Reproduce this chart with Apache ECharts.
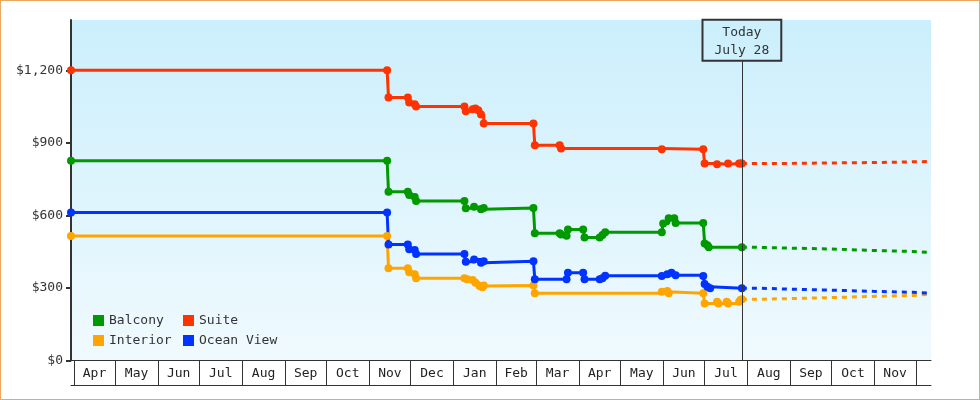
<!DOCTYPE html>
<html><head><meta charset="utf-8">
<script src="https://cdn.jsdelivr.net/npm/echarts@6/dist/echarts.min.js"></script>
<style>
html,body{margin:0;padding:0;background:#fff}
#wrap{position:relative;width:980px;height:400px}
#c{width:980px;height:400px}
#f{position:absolute;left:0;top:0;width:980px;height:400px;box-sizing:border-box;border:1px solid #EBA960;pointer-events:none}
</style>
</head><body>
<div id="wrap"><div id="c"></div><div id="f"></div></div>
<script>
// ---- data ----
const monthLabels = ['Apr','May','Jun','Jul','Aug','Sep','Oct','Nov','Dec','Jan','Feb','Mar','Apr','May','Jun','Jul','Aug','Sep','Oct','Nov'];
const yTicks = [0, 300, 600, 900, 1200];
const axisStart = '2023-03-30';
const axisEnd = '2024-12-12';
const todayDate = '2024-07-28';
const todayLabel = 'Today\nJuly 28';

const balconyDates = ['2023-03-30','2023-11-14','2023-11-15','2023-11-29','2023-11-30','2023-12-04','2023-12-05','2024-01-09','2024-01-10','2024-01-16','2024-01-21','2024-01-23','2024-02-28','2024-02-29','2024-03-18','2024-03-19','2024-03-23','2024-03-24','2024-04-04','2024-04-05','2024-04-16','2024-04-18','2024-04-20','2024-05-31','2024-06-01','2024-06-05','2024-06-09','2024-06-10','2024-06-30','2024-07-01','2024-07-03','2024-07-04','2024-07-28'];
const balconyPrices = [826,826,698,698,684,676,660,660,630,636,625,631,631,526,526,521,516,542,542,509,509,519,530,530,567,588,588,569,569,484,477,468,468];

const interiorDates = ['2023-03-30','2023-11-14','2023-11-15','2023-11-29','2023-11-30','2023-12-04','2023-12-05','2024-01-09','2024-01-11','2024-01-15','2024-01-17','2024-01-20','2024-01-22','2024-01-23','2024-02-28','2024-02-29','2024-05-31','2024-06-04','2024-06-05','2024-06-30','2024-07-01','2024-07-10','2024-07-11','2024-07-17','2024-07-18','2024-07-26','2024-07-27','2024-07-28'];
const interiorPrices = [515,515,381,381,365,357,340,340,336,333,322,308,303,310,310,278,284,287,278,278,236,243,236,243,236,243,250,253];

const oceanDates = ['2023-03-30','2023-11-14','2023-11-15','2023-11-29','2023-11-30','2023-12-04','2023-12-05','2024-01-09','2024-01-10','2024-01-16','2024-01-21','2024-01-23','2024-02-28','2024-02-29','2024-03-23','2024-03-24','2024-04-04','2024-04-05','2024-04-16','2024-04-18','2024-04-20','2024-05-31','2024-06-04','2024-06-07','2024-06-10','2024-06-30','2024-07-01','2024-07-03','2024-07-05','2024-07-28'];
const oceanPrices = [612,612,480,480,460,457,440,440,408,418,404,410,410,336,336,363,363,336,336,340,350,349,357,363,353,349,316,305,299,299];

const suiteDates = ['2023-03-30','2023-11-14','2023-11-15','2023-11-29','2023-11-30','2023-12-04','2023-12-05','2024-01-09','2024-01-10','2024-01-15','2024-01-17','2024-01-19','2024-01-21','2024-01-23','2024-02-28','2024-02-29','2024-03-18','2024-03-19','2024-05-31','2024-06-30','2024-07-01','2024-07-10','2024-07-18','2024-07-26','2024-07-27','2024-07-28'];
const suitePrices = [1200,1200,1088,1088,1067,1060,1050,1050,1031,1039,1042,1035,1017,980,980,890,890,877,874,874,815,812,815,815,815,815];

const forecastDates = ['2024-07-28','2024-08-09','2024-09-07','2024-10-06','2024-10-31','2024-11-29','2024-12-12'];
const balconyForecast = [468,464,460,455,451,447,447];
const interiorForecast = [253,257,261,265,269,274,274];
const oceanForecast = [299,294,290,286,282,278,278];
const suiteForecastDates = ['2024-07-28','2024-08-31','2024-11-07','2024-12-12'];
const suiteForecast = [815,819,823,823];

// ---- build ----
const FONT = '"DejaVu Sans Mono", monospace';
const toTs = s => { const p = s.split('-').map(Number); return Date.UTC(p[0], p[1]-1, p[2]); };
const zip = (ds, vs) => ds.map((d, i) => [toTs(d), vs[i]]);

const monthStarts = [];
for (let i = 0; i <= monthLabels.length; i++) monthStarts.push(Date.UTC(2023, 3 + i, 1));
const labelPos = monthLabels.map((m, i) => (monthStarts[i] + monthStarts[i + 1]) / 2);
const monthFmt = v => {
  let best = -1, bd = Infinity;
  labelPos.forEach((p, i) => { const d = Math.abs(p - v); if (d < bd) { bd = d; best = i; } });
  return bd < 86400000 ? monthLabels[best] : '';
};
const moneyFmt = v => '$' + Number(v).toLocaleString('en-US');

const colors = { Balcony: '#009900', Interior: '#FFA500', 'Ocean View': '#0033FF', Suite: '#FF3300' };

function solid(name, data, extra) {
  return Object.assign({
    name, type: 'line', step: 'end', data,
    symbol: 'circle', symbolSize: 8, showAllSymbol: true,
    lineStyle: { width: 3, color: colors[name] },
    itemStyle: { color: colors[name] },
    emphasis: { disabled: true }, animation: false
  }, extra || {});
}
function forecast(name, data) {
  return {
    name, type: 'line', step: 'end', data,
    symbol: 'none', showSymbol: false,
    lineStyle: { width: 3, color: colors[name], type: [5, 5] },
    itemStyle: { color: colors[name] },
    emphasis: { disabled: true }, animation: false
  };
}

const todayTs = toTs(todayDate);
const legendText = { fontFamily: FONT, fontSize: 13, color: '#333' };

const option = {
  animation: false,
  grid: {
    left: 71, right: 49, top: 20, bottom: 39.5, show: true, borderWidth: 0,
    outerBoundsMode: 'none',
    backgroundColor: new echarts.graphic.LinearGradient(0, 0, 0, 1, [
      { offset: 0, color: '#CBEFFC' }, { offset: 1, color: '#F0FAFE' }
    ])
  },
  legend: [
    { data: ['Balcony', 'Interior'], left: 88, top: 309, orient: 'vertical', icon: 'rect',
      itemWidth: 11, itemHeight: 11, itemGap: 7, textStyle: legendText, selectedMode: false },
    { data: ['Suite', 'Ocean View'], left: 178, top: 309, orient: 'vertical', icon: 'rect',
      itemWidth: 11, itemHeight: 11, itemGap: 7, textStyle: legendText, selectedMode: false }
  ],
  xAxis: [
    { type: 'value', min: toTs(axisStart), max: toTs(axisEnd), position: 'bottom', scale: true,
      axisLine: { show: true, onZero: false, lineStyle: { color: '#333', width: 1 } },
      axisTick: { show: true, length: 25, inside: false, customValues: monthStarts, lineStyle: { color: '#333', width: 1 } },
      axisLabel: { show: true, customValues: labelPos, formatter: monthFmt, margin: 7, color: '#222',
        fontFamily: FONT, fontSize: 13, hideOverlap: false, showMinLabel: true, showMaxLabel: true },
      splitLine: { show: false }, minorTick: { show: false } },
    { type: 'value', min: toTs(axisStart), max: toTs(axisEnd), position: 'bottom', offset: 25, scale: true,
      axisLine: { show: true, onZero: false, lineStyle: { color: '#333', width: 1 } },
      axisTick: { show: false }, axisLabel: { show: false }, splitLine: { show: false } }
  ],
  yAxis: {
    type: 'value', min: 0, max: 1408,
    axisLine: { show: true, lineStyle: { color: '#333', width: 2 } },
    axisTick: { show: true, length: 5, customValues: yTicks, lineStyle: { color: '#333', width: 2 } },
    axisLabel: { customValues: yTicks, formatter: moneyFmt, color: '#333', fontFamily: FONT, fontSize: 13, margin: 8 },
    splitLine: { show: false }
  },
  series: [
    forecast('Balcony', zip(forecastDates, balconyForecast)),
    forecast('Interior', zip(forecastDates, interiorForecast)),
    forecast('Ocean View', zip(forecastDates, oceanForecast)),
    forecast('Suite', zip(suiteForecastDates, suiteForecast)),
    solid('Balcony', zip(balconyDates, balconyPrices)),
    solid('Interior', zip(interiorDates, interiorPrices)),
    solid('Ocean View', zip(oceanDates, oceanPrices)),
    solid('Suite', zip(suiteDates, suitePrices), {
      markLine: {
        silent: true, animation: false, symbol: ['none', 'none'],
        lineStyle: { color: '#333', width: 1, type: 'solid' },
        label: { show: true, position: 'end', distance: 0, formatter: todayLabel,
          color: '#333', fontFamily: FONT, fontSize: 13, lineHeight: 18,
          padding: [4, 12, 1, 12], borderColor: '#333', borderWidth: 1, backgroundColor: 'transparent' },
        emphasis: { disabled: true },
        data: [[{ coord: [todayTs, 0] }, { coord: [todayTs, 1239] }]]
      }
    })
  ]
};

const chart = echarts.init(document.getElementById('c'), null, { renderer: 'canvas' });
chart.setOption(option);
</script>
</body></html>
